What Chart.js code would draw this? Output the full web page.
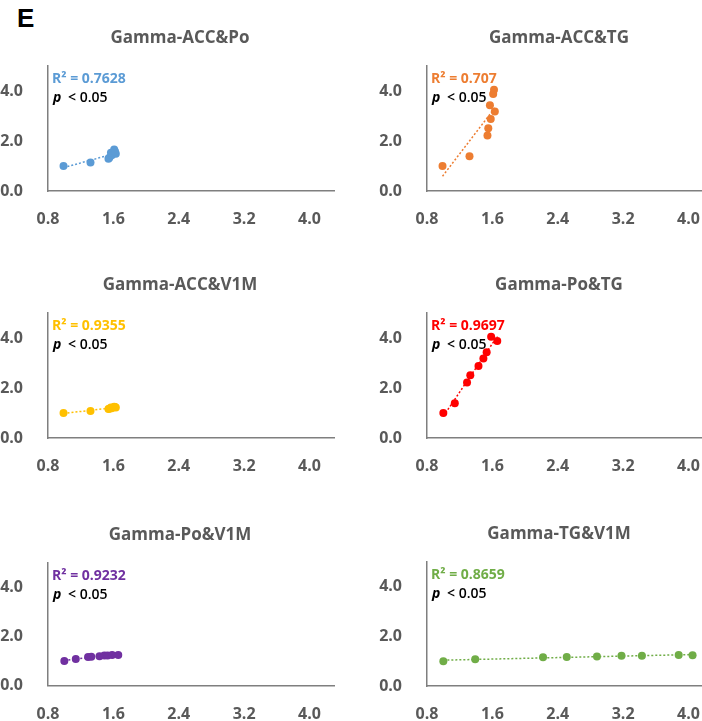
<!DOCTYPE html>
<html>
<head>
<meta charset="utf-8">
<script src="https://cdn.jsdelivr.net/npm/chart.js@4.4.0/dist/chart.umd.min.js"></script>
<style>
  html, body { margin: 0; padding: 0; background: #fff; }
  body { width: 702px; height: 721px; position: relative; overflow: hidden; }
  .panel { position: absolute; }
  #letter { position: absolute; left: 17px; top: 3px; font: bold 26px "Liberation Sans", Arial, sans-serif; color: #000; }
</style>
</head>
<body>
<div id="letter">E</div>
<canvas class="panel" id="p1" width="351" height="240" style="left:0;top:0"></canvas>
<canvas class="panel" id="p2" width="380" height="240" style="left:351px;top:0"></canvas>
<canvas class="panel" id="p3" width="351" height="240" style="left:0;top:240px"></canvas>
<canvas class="panel" id="p4" width="380" height="240" style="left:351px;top:240px"></canvas>
<canvas class="panel" id="p5" width="351" height="241" style="left:0;top:480px"></canvas>
<canvas class="panel" id="p6" width="380" height="241" style="left:351px;top:480px"></canvas>
<script>
// normalised values per sample (9 samples)
var acc = [0.99, 1.32, 1.54, 1.55, 1.58, 1.63, 1.57, 1.61, 1.62];
var po  = [1.00, 1.14, 1.29, 1.33, 1.43, 1.49, 1.53, 1.66, 1.585];
var tg  = [1.00, 1.39, 2.22, 2.51, 2.88, 3.18, 3.43, 3.88, 4.05];
var v1m = [1.00, 1.08, 1.16, 1.17, 1.19, 1.22, 1.22, 1.25, 1.24];

var xTicks = [0.8, 1.6, 2.4, 3.2, 4.0];
var yTicks = [0, 2, 4];

var titles = ['Gamma-ACC&Po', 'Gamma-ACC&TG', 'Gamma-ACC&V1M', 'Gamma-Po&TG', 'Gamma-Po&V1M', 'Gamma-TG&V1M'];
var r2Labels = ['0.7628', '0.707', '0.9355', '0.9697', '0.9232', '0.8659'];
var colors = ['#5B9BD5', '#ED7D31', '#FFC000', '#FF0000', '#7030A0', '#70AD47'];
var pairs = [[acc, po], [acc, tg], [acc, v1m], [po, tg], [po, v1m], [tg, v1m]];

var FONT = '"Open Sans", "Liberation Sans", sans-serif';

// layout per panel: y axis width, top padding, right padding, canvas height, chart bottom
var layouts = [
  {yw: 48, top: 66, right: 17, h: 240, bottom: 191},
  {yw: 76, top: 66, right: 18, h: 240, bottom: 191},
  {yw: 48, top: 73, right: 17, h: 240, bottom: 198},
  {yw: 76, top: 73, right: 18, h: 240, bottom: 198},
  {yw: 48, top: 83, right: 17, h: 241, bottom: 205.5},
  {yw: 76, top: 82, right: 18, h: 241, bottom: 206}
];

function fit(xs, ys) {
  var n = xs.length, sx = 0, sy = 0, sxx = 0, sxy = 0;
  for (var i = 0; i < n; i++) { sx += xs[i]; sy += ys[i]; sxx += xs[i]*xs[i]; sxy += xs[i]*ys[i]; }
  var b = (n*sxy - sx*sy) / (n*sxx - sx*sx);
  var a = (sy - b*sx) / n;
  var lo = Math.min.apply(null, xs), hi = Math.max.apply(null, xs);
  return [{x: lo, y: a + b*lo}, {x: hi, y: a + b*hi}];
}

var panelText = {
  id: 'panelText',
  afterDraw: function(chart, args, opts) {
    var ctx = chart.ctx, a = chart.chartArea;
    ctx.save();
    ctx.textBaseline = 'middle';
    ctx.textAlign = 'center';
    ctx.fillStyle = '#595959';
    ctx.font = 'bold 17px ' + FONT;
    ctx.fillText(opts.title, a.left + 132, a.top - 28);

    ctx.textAlign = 'left';
    ctx.fillStyle = opts.color;
    ctx.font = 'bold 14px ' + FONT;
    ctx.fillText('R\u00B2 = ' + opts.r2, a.left + 4, a.top + 13);

    ctx.fillStyle = '#000';
    ctx.font = 'italic bold 14px ' + FONT;
    ctx.fillText('p', a.left + 5, a.top + 32);
    ctx.font = '600 14px ' + FONT;
    ctx.fillText('< 0.05', a.left + 20, a.top + 32);
    ctx.restore();
  }
};

for (var k = 0; k < 6; k++) {
  (function(k) {
    var xs = pairs[k][0], ys = pairs[k][1], L = layouts[k];
    var pts = xs.map(function(v, i) { return {x: v, y: ys[i]}; });

    new Chart(document.getElementById('p' + (k + 1)), {
      type: 'scatter',
      data: {
        datasets: [{
          data: pts,
          backgroundColor: colors[k],
          borderWidth: 0,
          pointRadius: 4
        }, {
          data: fit(xs, ys),
          showLine: true,
          borderColor: colors[k],
          borderWidth: 1.5,
          borderDash: [2, 2],
          pointRadius: 0
        }]
      },
      options: {
        responsive: false,
        devicePixelRatio: 1,
        animation: false,
        events: [],
        layout: { padding: { left: 0, top: L.top, right: L.right, bottom: 0 } },
        plugins: {
          legend: { display: false },
          tooltip: { enabled: false },
          panelText: { title: titles[k], r2: r2Labels[k], color: colors[k] }
        },
        scales: {
          x: {
            type: 'linear', min: 0.8, max: 4.3,
            grid: { display: false },
            border: { display: true, color: '#7F7F7F', width: 1.5 },
            afterBuildTicks: function(s) { s.ticks = xTicks.map(function(v) { return {value: v}; }); },
            afterFit: function(s) { s.height = L.h - L.bottom; },
            ticks: {
              padding: 11, maxRotation: 0, color: '#595959',
              font: { family: FONT, size: 16, weight: 'bold' },
              callback: function(v) { return Number(v).toFixed(1); }
            }
          },
          y: {
            type: 'linear', min: 0, max: 5,
            grid: { display: false },
            border: { display: true, color: '#7F7F7F', width: 1.5 },
            afterBuildTicks: function(s) { s.ticks = yTicks.map(function(v) { return {value: v}; }); },
            afterFit: function(s) { s.width = L.yw; },
            ticks: {
              padding: 17, color: '#595959',
              font: { family: FONT, size: 16, weight: 'bold' },
              callback: function(v) { return Number(v).toFixed(1); }
            }
          }
        }
      },
      plugins: [panelText]
    });
  })(k);
}
</script>
</body>
</html>
